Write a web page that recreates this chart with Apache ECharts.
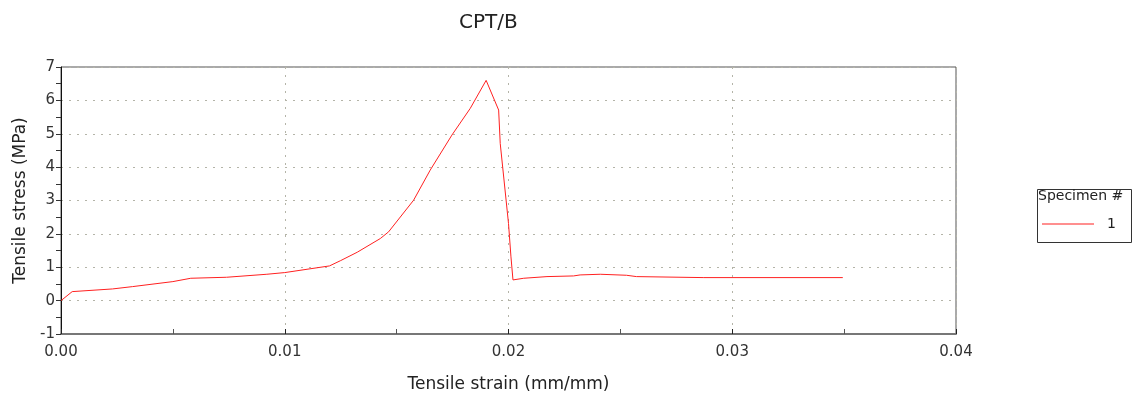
<!DOCTYPE html>
<html>
<head>
<meta charset="utf-8">
<script src="https://cdn.jsdelivr.net/npm/echarts@6/dist/echarts.min.js"></script>
<style>
html, body { margin: 0; padding: 0; background: #fff; }
#main { width: 1137px; height: 394px; }
</style>
</head>
<body>
<div id="main"></div>
<script>
// strain (mm/mm) and stress (MPa)
var strain = [0, 0.0005, 0.0023, 0.0032, 0.005, 0.0058, 0.0074, 0.0092, 0.01, 0.012, 0.0125,
    0.01324, 0.01427, 0.01464, 0.01576, 0.0165, 0.01747, 0.01829, 0.019, 0.01956,
    0.01963, 0.02, 0.02011, 0.0202, 0.02068, 0.02172, 0.02291, 0.0232, 0.0241,
    0.02527, 0.02572, 0.02873, 0.03494];
var stress = [0, 0.27, 0.35, 0.42, 0.57, 0.67, 0.70, 0.79, 0.84, 1.04, 1.2,
    1.45, 1.86, 2.06, 3.01, 3.91, 4.96, 5.76, 6.60, 5.71,
    4.71, 2.31, 1.31, 0.62, 0.67, 0.72, 0.74, 0.77, 0.79,
    0.76, 0.72, 0.69, 0.69];
var specimens = ['1'];

var myChart = echarts.init(document.getElementById('main'));

var points = [];
for (var i = 0; i < strain.length; i++) {
    points.push([strain[i], stress[i]]);
}

var font = '"DejaVu Sans", Verdana, sans-serif';
var gridDots = { show: true, lineStyle: { color: '#b4b4a8', type: [2, 6], width: 1 } };

var option = {
    animation: false,
    title: {
        text: 'CPT/B',
        left: 454,
        top: 8,
        textStyle: { fontFamily: font, fontSize: 20, fontWeight: 'normal', color: '#222' }
    },
    grid: {
        left: 61, right: 181, top: 67, bottom: 60,
        outerBoundsMode: 'none',
        containLabel: false,
        show: true, borderColor: '#555', borderWidth: 1
    },
    legend: {
        data: specimens,
        left: 1037,
        top: 212,
        icon: 'rect',
        itemWidth: 52,
        itemHeight: 1,
        textStyle: { fontFamily: font, fontSize: 14, color: '#222', padding: [0, 0, 0, 8] }
    },
    graphic: [
        {
            type: 'rect',
            left: 1035, top: 187,
            shape: { width: 94, height: 53 },
            style: { fill: 'none', stroke: '#333', lineWidth: 1 }
        },
        {
            type: 'text',
            left: 1038, top: 189,
            style: { text: 'Specimen #', font: '14px ' + font, fill: '#222' }
        }
    ],
    xAxis: {
        type: 'value',
        min: 0, max: 0.04, interval: 0.01,
        name: 'Tensile strain (mm/mm)',
        nameLocation: 'middle',
        nameGap: 42,
        nameTextStyle: { fontFamily: font, fontSize: 17, color: '#222' },
        axisLine: { show: true, onZero: false, lineStyle: { color: '#777', width: 2 } },
        axisTick: { show: true, inside: true, length: 5, lineStyle: { color: '#222' } },
        minorTick: { show: true, splitNumber: 2, length: 5, lineStyle: { color: '#555' } },
        axisLabel: {
            fontFamily: font, fontSize: 15, color: '#333', margin: 11,
            formatter: function (v) { return v.toFixed(2); }
        },
        splitLine: gridDots
    },
    yAxis: {
        type: 'value',
        min: -1, max: 7, interval: 1,
        name: 'Tensile stress (MPa)',
        nameLocation: 'middle',
        nameGap: 31,
        nameTextStyle: { fontFamily: font, fontSize: 17, color: '#222' },
        axisLine: { show: true, onZero: false, lineStyle: { color: '#111', width: 1 } },
        axisTick: { show: true, length: 5, lineStyle: { color: '#333' } },
        minorTick: { show: true, splitNumber: 2, length: 5, lineStyle: { color: '#333' } },
        axisLabel: { fontFamily: font, fontSize: 15, color: '#333', margin: 6 },
        splitLine: gridDots
    },
    series: [
        {
            name: specimens[0],
            type: 'line',
            data: points,
            showSymbol: false,
            lineStyle: { color: '#ff2020', width: 1 },
            itemStyle: { color: '#ff2020' }
        }
    ]
};

myChart.setOption(option);
</script>
</body>
</html>
